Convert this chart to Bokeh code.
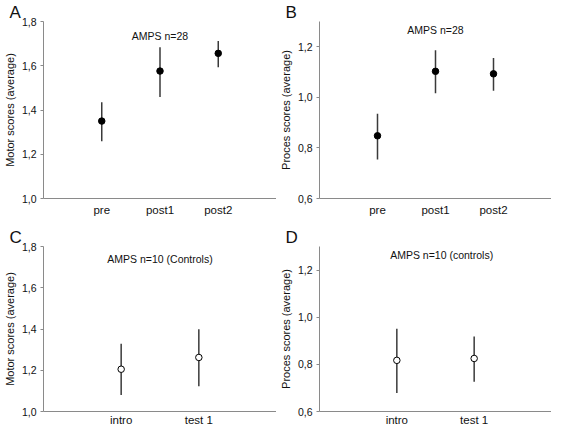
from bokeh.plotting import figure
from bokeh.layouts import column, row
from bokeh.models import Range1d, FixedTicker, CustomJSTickFormatter, Label, Title
from bokeh.embed import file_html
from bokeh.resources import INLINE

FONT = "Liberation Sans"

# ---- data ----
cats_ab = ["pre", "post1", "post2"]
cats_cd = ["intro", "test 1"]

motor_mean = [1.350, 1.576, 1.656]
motor_low = [1.259, 1.459, 1.593]
motor_high = [1.435, 1.684, 1.712]

proces_mean = [0.848, 1.103, 1.093]
proces_low = [0.754, 1.016, 1.026]
proces_high = [0.935, 1.186, 1.156]

ctrl_motor_mean = [1.205, 1.262]
ctrl_motor_low = [1.080, 1.123]
ctrl_motor_high = [1.328, 1.399]

ctrl_proces_mean = [0.817, 0.825]
ctrl_proces_low = [0.679, 0.726]
ctrl_proces_high = [0.951, 0.918]

motor_ticks = [1.0, 1.2, 1.4, 1.6, 1.8]
proces_ticks = [0.6, 0.8, 1.0, 1.2]

AXIS_COLOR = "#8a8a8a"
BAR_COLOR = "#3a3a3a"


def make_panel(letter, title, cats, mean, low, high, ylabel, yticks, yrange,
               filled, width, height, border_top, title_x, title_y, x_standoff):
    xs = list(range(1, len(cats) + 1))
    p = figure(width=width, height=height, output_backend="svg",
               toolbar_location=None,
               x_range=Range1d(0, len(cats) + 1),
               y_range=Range1d(*yrange),
               min_border_left=36, min_border_right=0,
               min_border_top=border_top, min_border_bottom=18)
    p.title = Title(text=letter, align="left", offset=-34, standoff=0,
                    text_font=FONT, text_font_size="17px", text_font_style="normal",
                    text_color="#111111")
    p.outline_line_color = None
    p.xgrid.visible = False
    p.ygrid.visible = False
    p.background_fill_color = "white"
    p.border_fill_color = "white"

    p.segment(x0=xs, y0=low, x1=xs, y1=high, line_color=BAR_COLOR, line_width=1.5)
    p.scatter(xs, mean, size=6.5, marker="circle",
              fill_color="black" if filled else "white",
              line_color="black", line_width=1)

    xa = p.xaxis[0]
    xa.ticker = FixedTicker(ticks=xs)
    xa.major_label_overrides = {x: c for x, c in zip(xs, cats)}
    xa.axis_line_color = AXIS_COLOR
    xa.major_tick_line_color = None
    xa.major_tick_out = 0
    xa.major_tick_in = 0
    xa.minor_tick_line_color = None
    xa.minor_tick_out = 0
    xa.major_label_text_font = FONT
    xa.major_label_text_font_size = "11.5px"
    xa.major_label_text_color = "#111111"
    xa.major_label_standoff = x_standoff

    ya = p.yaxis[0]
    ya.ticker = FixedTicker(ticks=yticks)
    ya.formatter = CustomJSTickFormatter(code="return tick.toFixed(1).replace('.', ',')")
    ya.axis_line_color = AXIS_COLOR
    ya.major_tick_line_color = AXIS_COLOR
    ya.major_tick_out = 3
    ya.major_tick_in = 0
    ya.minor_tick_line_color = None
    ya.minor_tick_out = 0
    ya.major_label_text_font = FONT
    ya.major_label_text_font_size = "10.5px"
    ya.major_label_text_color = "#111111"
    ya.major_label_standoff = 4
    ya.axis_label = ylabel
    ya.axis_label_text_font = FONT
    ya.axis_label_text_font_size = "11px"
    ya.axis_label_text_font_style = "normal"
    ya.axis_label_text_color = "#111111"
    ya.axis_label_standoff = 3

    p.add_layout(Label(x=title_x, y=title_y,
                       text=title, text_font=FONT, text_font_size="10.5px",
                       text_baseline="top", text_align="center", text_color="#111111"))
    return p


pa = make_panel("A", "AMPS n=28", cats_ab, motor_mean, motor_low, motor_high,
                "Motor scores (average)", motor_ticks, (1.0, 1.8), True,
                276, 218, 15, 2, 1.762, 5)
pb = make_panel("B", "AMPS n=28", cats_ab, proces_mean, proces_low, proces_high,
                "Proces scores (average)", proces_ticks, (0.6, 1.3), True,
                275, 218, 15, 2, 1.292, 5)
pc = make_panel("C", "AMPS n=10 (Controls)", cats_cd, ctrl_motor_mean, ctrl_motor_low,
                ctrl_motor_high, "Motor scores (average)", motor_ticks, (1.0, 1.8), False,
                276, 211, 28, 1.5, 1.768, 2)
pd = make_panel("D", "AMPS n=10 (controls)", cats_cd, ctrl_proces_mean, ctrl_proces_low,
                ctrl_proces_high, "Proces scores (average)", proces_ticks, (0.6, 1.3), False,
                275, 211, 28, 1.58, 1.29, 2)

layout = column(row(pa, pb), row(pc, pd))
open("out.html", "w").write(file_html(layout, INLINE))
